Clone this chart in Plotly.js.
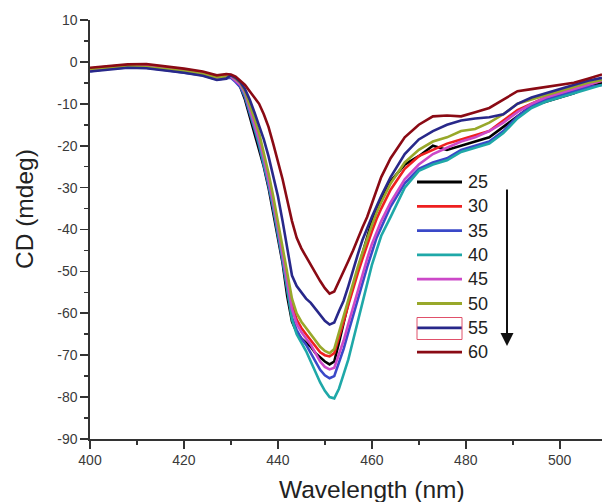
<!DOCTYPE html>
<html>
<head>
<meta charset="utf-8">
<script src="https://cdn.plot.ly/plotly-3.0.1.min.js"></script>
<style>html,body{margin:0;padding:0;background:#fff;}#chart{width:602px;height:502px;}</style>
</head>
<body>
<div id="chart"></div>
<script>
// Wavelength grid (nm)
const wavelength = [400,404,408,412,416,420,424,427,429,
  430,431,432,433,434,435,436,437,438,439,440,441,442,443,444,445,446,447,448,449,450,451,452,453,454,455,456,457,458,459,460,461,462,
  464,467,470,473,476,479,482,485,488,491,494,497,500,503,506,509];

const temps = ["25","30","35","40","45","50","55","60"];
const colors = ["#000000","#ee2020","#3a48c8","#1fa8a8","#cc48c8","#98a82a","#28288a","#8a0a14"];

// tick labels
const xTickVals = [400,420,440,460,480,500];
const xTickText = ["400","420","440","460","480","500"];
const yTickVals = [10,0,-10,-20,-30,-40,-50,-60,-70,-80,-90];
const yTickText = ["10","0","-10","-20","-30","-40","-50","-60","-70","-80","-90"];

const cd25 = [-1.8,-1.2,-0.9,-1.0,-1.5,-2.0,-2.8,-3.8,-3.6,
  -3.5,-4.5,-6,-9,-13,-17,-20.5,-25,-30,-36,-42,-48,-56,-62,-64.5,-66,-67,-68,-69.5,-70.5,-71.5,-72.2,-71.5,-67,-62,-57.5,-53.5,-49.5,-45.5,-41.5,-38,-35.5,-33,
  -28.5,-24.5,-22.5,-20,-21,-20,-19,-18,-15.5,-13,-10.5,-9.5,-8.5,-7.5,-6,-5];
const cd30 = [-1.6,-1.1,-0.8,-0.8,-1.3,-1.8,-2.6,-3.6,-3.4,
  -3.3,-4.2,-5.3,-7.5,-10.5,-14,-18,-22.5,-27.5,-33,-39,-45.5,-52,-58,-61.5,-63.5,-65,-66.5,-68,-69.3,-70,-70.3,-69.5,-66,-62,-58,-54,-50.5,-47,-43.5,-40.5,-37.5,-35,
  -30.5,-25.5,-22.5,-21,-19.5,-18.5,-17.5,-16.5,-14,-11.5,-10,-8.5,-7.5,-6.5,-5.5,-4.5];
const cd35 = [-2.2,-1.6,-1.3,-1.4,-1.9,-2.5,-3.2,-4.2,-4.0,
  -3.8,-4.8,-6,-8.5,-12,-16,-20,-24.5,-29.5,-35,-41,-47.5,-54.5,-61,-64,-66,-67.5,-69.5,-71.5,-73.5,-74.8,-75.5,-75,-72,-68.5,-64.5,-60.5,-56.5,-52.5,-49,-45.5,-42,-39.5,
  -34.5,-29,-25.5,-24,-23,-21,-20,-19,-16.5,-13,-10.5,-9,-8,-7,-6,-5.5];
const cd40 = [-2.0,-1.5,-1.2,-1.3,-1.8,-2.3,-3.0,-4.0,-3.8,
  -3.5,-4.3,-5.5,-8,-11.5,-15.5,-19.5,-24,-29,-34.5,-40.5,-47,-54,-61.5,-65,-67,-69,-71.5,-74,-76.5,-78.5,-80,-80.3,-78,-74.5,-71,-66.5,-62,-57,-52.5,-48.5,-45,-41.5,
  -37,-30,-26,-24.5,-23.5,-21.5,-20.5,-19.5,-17,-13.5,-11,-9.5,-8.5,-7.5,-6.5,-5.5];
const cd45 = [-1.9,-1.4,-1.0,-1.1,-1.6,-2.1,-2.9,-3.9,-3.7,
  -3.5,-4.5,-5.5,-7.5,-11,-14.5,-18.5,-23,-28,-33.5,-39.5,-46,-53,-59,-62.5,-64.5,-66,-67.5,-69.5,-71.5,-72.8,-73.4,-73,-70,-66.5,-62.5,-58.5,-54.5,-50.5,-47,-43.5,-40.5,-38,
  -33.5,-28,-24.5,-22,-20.5,-19,-18,-16.5,-14.5,-12,-10,-8.5,-7.5,-6.5,-5.5,-4.5];
const cd50 = [-1.7,-1.3,-1.0,-1.2,-1.7,-2.2,-2.9,-3.7,-3.5,
  -3.2,-4,-5,-7,-10,-13.5,-17,-21.5,-26.5,-32,-38,-44,-50.5,-56.5,-60,-62,-63.5,-65,-66.5,-68,-69,-69.5,-68.5,-64.5,-60.5,-56.5,-52.5,-49,-45.5,-42,-39,-36,-33.5,
  -29,-24,-21,-19,-18,-16.5,-16,-14.5,-12.5,-10,-9,-8,-7,-6,-5,-4.3];
const cd55 = [-2.3,-1.8,-1.4,-1.5,-2.0,-2.6,-3.3,-4.3,-4.0,
  -3.2,-3.8,-4.8,-6.5,-9,-12,-15,-18.5,-22.5,-27,-32,-38,-45,-51,-53.5,-55,-56.5,-57.5,-59,-60.5,-61.8,-62.7,-62.2,-59.5,-57,-53.5,-49.5,-46,-42.5,-39.5,-37,-34.5,-32,
  -27.5,-22,-18.5,-16.5,-15,-14,-13.5,-13.2,-12.5,-10,-8.5,-7.5,-6.5,-5.5,-4.5,-3.8];
const cd60 = [-1.4,-1.0,-0.6,-0.5,-1.0,-1.6,-2.3,-3.2,-2.9,
  -3,-3.5,-4.5,-5.5,-7,-8.5,-10,-12.5,-15.5,-19.5,-23.5,-28,-33,-38,-42,-44.5,-46.5,-48.5,-50.5,-52.3,-54,-55.3,-54.8,-52.5,-50,-47.5,-45,-42,-39.5,-37,-34,-30.5,-27.5,
  -23,-18,-15,-13,-12.8,-13,-12,-11,-9,-7,-6.5,-6,-5.5,-5,-4,-3];

const series = [cd25,cd30,cd35,cd40,cd45,cd50,cd55,cd60];

const traces = series.map((ys, i) => ({
  x: wavelength, y: ys, type: "scatter", mode: "lines",
  name: temps[i], line: {color: colors[i], width: 2.6}, showlegend: false
}));

// plot-area geometry (pixels) used to place the hand-drawn legend
const W = 602, H = 502, ML = 90, MR = 0, MT = 20, MB = 63;
const PW = W - ML - MR, PH = H - MT - MB;
const px = v => (v - ML) / PW;
const py = v => (H - MB - v) / PH;

const FONT = "Arial, 'Liberation Sans', sans-serif";
const shapes = [];
const annotations = [];
temps.forEach((t, i) => {
  const yy = 182 + i * 24.3;
  shapes.push({type: "line", xref: "paper", yref: "paper",
    x0: px(417), x1: px(462), y0: py(yy), y1: py(yy),
    line: {color: colors[i], width: 2.8}});
  annotations.push({xref: "paper", yref: "paper", x: px(466), y: py(yy),
    xanchor: "left", yanchor: "middle", showarrow: false, text: t,
    font: {family: FONT, size: 18, color: "#222"}});
});
// small red frame around the "55" key
shapes.push({type: "rect", xref: "paper", yref: "paper",
  x0: px(417), x1: px(462), y0: py(317.5), y1: py(339.5),
  line: {color: "#e0506a", width: 1}, fillcolor: "rgba(0,0,0,0)"});
// downward arrow
annotations.push({xref: "paper", yref: "paper", x: px(507), y: py(346),
  ax: 0, ay: -158, showarrow: true, arrowhead: 2, arrowsize: 1.3, arrowwidth: 2, arrowcolor: "#111", text: ""});
// axis titles
annotations.push({xref: "paper", yref: "paper", x: px(372), y: py(489),
  xanchor: "center", yanchor: "middle", showarrow: false, text: "Wavelength (nm)",
  font: {family: FONT, size: 24.5, color: "#222"}});
annotations.push({xref: "paper", yref: "paper", x: px(24), y: py(209),
  xanchor: "center", yanchor: "middle", showarrow: false, text: "CD (mdeg)", textangle: -90,
  font: {family: FONT, size: 24.5, color: "#222"}});

const axisFont = {family: FONT, size: 14, color: "#3a3a3a"};

const layout = {
  width: W, height: H,
  margin: {l: ML, r: MR, t: MT, b: MB},
  paper_bgcolor: "#fff", plot_bgcolor: "#fff",
  font: {family: FONT, color: "#222"},
  showlegend: false,
  xaxis: {
    range: [400, 509], showgrid: false, zeroline: false,
    showline: true, linecolor: "#333", linewidth: 1.6,
    ticks: "outside", tickcolor: "#333", ticklen: 8, tickwidth: 1.6,
    tickmode: "array", tickvals: xTickVals, ticktext: xTickText,
    minor: {dtick: 10, ticks: "outside", ticklen: 4, tickcolor: "#333", tickwidth: 1.6},
    tickfont: axisFont
  },
  yaxis: {
    range: [-90, 10], showgrid: false, zeroline: false,
    showline: true, linecolor: "#333", linewidth: 1.6,
    ticks: "outside", tickcolor: "#333", ticklen: 8, tickwidth: 1.6,
    tickmode: "array", tickvals: yTickVals, ticktext: yTickText,
    minor: {tickmode: "linear", tick0: 5, dtick: 10, ticks: "outside", ticklen: 4, tickcolor: "#333", tickwidth: 1.6},
    tickfont: axisFont
  },
  shapes: shapes,
  annotations: annotations
};

Plotly.newPlot("chart", traces, layout, {displayModeBar: false, staticPlot: true});
</script>
</body>
</html>
